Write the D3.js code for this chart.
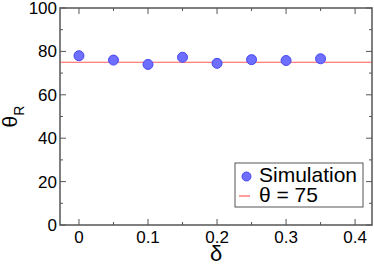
<!DOCTYPE html>
<html>
<head>
<meta charset="utf-8">
<script src="https://cdn.jsdelivr.net/npm/d3@7"></script>
<style>
  body { margin: 0; background: #fff; }
  svg { display: block; }
  text { font-family: "Liberation Sans", Arial, sans-serif; fill: #000; }
</style>
</head>
<body>
<svg width="374" height="264"></svg>
<script>
var deltas = [0, 0.05, 0.1, 0.15, 0.2, 0.25, 0.3, 0.35];
var thetaR = [78.0, 76.0, 74.0, 77.3, 74.5, 76.2, 75.8, 76.6];
var refTheta = 75;
var xTicks = [0, 0.1, 0.2, 0.3, 0.4];
var xMinor = [0.05, 0.15, 0.25, 0.35];
var yTicks = [0, 20, 40, 60, 80, 100];
var yMinor = [10, 30, 50, 70, 90];

var svg = d3.select("svg");
var pLeft = 60, pRight = 372, pTop = 8, pBottom = 225;

var x = d3.scaleLinear().domain([-0.0275, 0.4245]).range([pLeft, pRight]);
var y = d3.scaleLinear().domain([0, 100]).range([pBottom, pTop]);

var frameColor = "#555";

// reference line
svg.append("line")
    .attr("x1", pLeft).attr("x2", pRight)
    .attr("y1", y(refTheta)).attr("y2", y(refTheta))
    .attr("stroke", "#ff5a5a").attr("stroke-width", 1.2);

// ticks, inward on all four sides
function ticks(g, vals, len, horiz) {
    vals.forEach(function(v) {
        if (horiz) {
            g.append("line").attr("x1", x(v)).attr("x2", x(v)).attr("y1", pBottom).attr("y2", pBottom - len);
            g.append("line").attr("x1", x(v)).attr("x2", x(v)).attr("y1", pTop).attr("y2", pTop + len);
        } else {
            g.append("line").attr("y1", y(v)).attr("y2", y(v)).attr("x1", pLeft).attr("x2", pLeft + len);
            g.append("line").attr("y1", y(v)).attr("y2", y(v)).attr("x1", pRight).attr("x2", pRight - len);
        }
    });
}
var tg = svg.append("g").attr("stroke", frameColor).attr("stroke-width", 1);
ticks(tg, xTicks, 6, true);
ticks(tg, xMinor, 3, true);
ticks(tg, yTicks, 6, false);
ticks(tg, yMinor, 3, false);

svg.append("rect")
    .attr("x", pLeft).attr("y", pTop)
    .attr("width", pRight - pLeft).attr("height", pBottom - pTop)
    .attr("fill", "none").attr("stroke", frameColor).attr("stroke-width", 1.5);

// tick labels
svg.append("g").selectAll("text").data(xTicks).enter().append("text")
    .attr("x", d => x(d)).attr("y", pBottom + 18)
    .attr("text-anchor", "middle").attr("font-size", 17)
    .text(d => d === 0 ? "0" : d3.format(".1f")(d));

svg.append("g").selectAll("text").data(yTicks).enter().append("text")
    .attr("x", pLeft - 3).attr("y", d => y(d) + 6)
    .attr("text-anchor", "end").attr("font-size", 17)
    .text(d => d);

// points
svg.append("g").selectAll("circle").data(deltas).enter().append("circle")
    .attr("cx", d => x(d)).attr("cy", (d, i) => y(thetaR[i]))
    .attr("r", 5)
    .attr("fill", "#6e6eff").attr("stroke", "#4848f0").attr("stroke-width", 1);

// axis titles
svg.append("text")
    .attr("x", (pLeft + pRight) / 2).attr("y", 261)
    .attr("text-anchor", "middle").attr("font-size", 22)
    .text("δ");

var yl = svg.append("text")
    .attr("transform", "translate(17," + ((pTop + pBottom) / 2) + ") rotate(-90)")
    .attr("text-anchor", "middle").attr("font-size", 21);
yl.append("tspan").text("θ");
yl.append("tspan").attr("font-size", 14).attr("dy", 7).text("R");

// legend
var lg = svg.append("g");
lg.append("rect")
    .attr("x", 235).attr("y", 163).attr("width", 128).attr("height", 44)
    .attr("fill", "#fff").attr("stroke", frameColor).attr("stroke-width", 1);
lg.append("circle")
    .attr("cx", 246.5).attr("cy", 176.5).attr("r", 4.5)
    .attr("fill", "#6e6eff").attr("stroke", "#4848f0").attr("stroke-width", 1);
lg.append("text").attr("x", 259).attr("y", 182).attr("font-size", 21).text("Simulation");
lg.append("line")
    .attr("x1", 239).attr("x2", 250).attr("y1", 196).attr("y2", 196)
    .attr("stroke", "#ff5a5a").attr("stroke-width", 1.2);
lg.append("text").attr("x", 259).attr("y", 202).attr("font-size", 21).text("θ = " + refTheta);
</script>
</body>
</html>
